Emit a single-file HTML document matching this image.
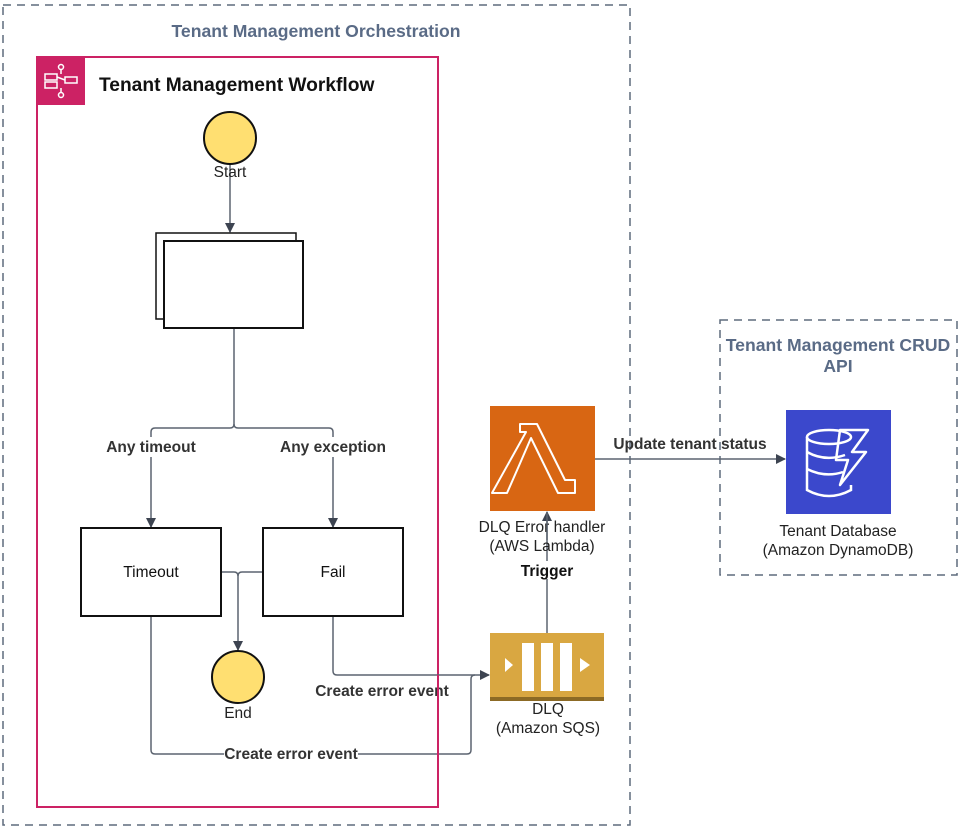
<!DOCTYPE html>
<html><head><meta charset="utf-8"><style>
body{margin:0;background:#fff;width:959px;height:833px;overflow:hidden}
svg text{font-family:"Liberation Sans",Arial,sans-serif}
</style></head><body>
<svg width="959" height="833" viewBox="0 0 959 833" xmlns="http://www.w3.org/2000/svg">
<defs>
<marker id="a" markerWidth="10" markerHeight="10" refX="9" refY="5" orient="auto" markerUnits="userSpaceOnUse"><path d="M0,0 L10,5 L0,10 z" fill="#3d4451"/></marker>
</defs>
<rect x="3" y="5" width="627" height="820" fill="none" stroke="#5f6b7d" stroke-width="1.5" stroke-dasharray="8,6"/>
<text x="316" y="37" text-anchor="middle" font-size="17.6" font-weight="bold" fill="#5a6b86">Tenant Management Orchestration</text>
<rect x="720" y="320" width="237" height="255" fill="none" stroke="#5f6b7d" stroke-width="1.5" stroke-dasharray="8,6"/>
<text x="838" y="351" text-anchor="middle" font-size="17.6" font-weight="bold" fill="#5a6b86">Tenant Management CRUD</text>
<text x="838" y="372" text-anchor="middle" font-size="17.6" font-weight="bold" fill="#5a6b86">API</text>

<rect x="37" y="57" width="401" height="750" fill="none" stroke="#cc2264" stroke-width="2"/>
<rect x="37" y="57" width="48" height="48" fill="#cc2264"/>
<g stroke="#fff" stroke-width="1.5" fill="none">
<circle cx="61" cy="67" r="2.5"/><circle cx="61" cy="95" r="2.5"/>
<line x1="61" y1="70" x2="61" y2="74"/><line x1="61" y1="88" x2="61" y2="92"/>
<rect x="45" y="74" width="12" height="6"/><rect x="65" y="77" width="12" height="6"/><rect x="45" y="82" width="12" height="6"/>
<line x1="57" y1="77" x2="65" y2="80"/>
</g>
<text x="99" y="91" font-size="19.2" font-weight="bold" fill="#111">Tenant Management Workflow</text>

<g stroke="#5c6470" stroke-width="1.5" fill="none">
<line x1="230" y1="164" x2="230" y2="232" marker-end="url(#a)"/>
<path d="M234,328 V424 Q234,428 230,428 H155 Q151,428 151,432 V527" marker-end="url(#a)"/>
<path d="M234,424 Q234,428 238,428 H329 Q333,428 333,432 V527" marker-end="url(#a)"/>
<path d="M221,572 H234 Q238,572 238,576 V650" marker-end="url(#a)"/>
<path d="M263,572 H242 Q238,572 238,576"/>
<path d="M333,616 V671 Q333,675 337,675 H489" marker-end="url(#a)"/>
<path d="M151,616 V750 Q151,754 155,754 H467 Q471,754 471,750 V679 Q471,675 475,675"/>
<line x1="547" y1="633" x2="547" y2="512" marker-end="url(#a)"/>
<line x1="595" y1="459" x2="785" y2="459" marker-end="url(#a)"/>
</g>
<circle cx="230" cy="138" r="26" fill="#ffdf71" stroke="#111" stroke-width="2"/>
<text x="230" y="177" text-anchor="middle" font-size="15.5" fill="#222">Start</text>
<rect x="156" y="233" width="140" height="86" fill="#fff" stroke="#111" stroke-width="1.5"/>
<rect x="164" y="241" width="139" height="87" fill="#fff" stroke="#111" stroke-width="2"/>

<rect x="100" y="437" width="104" height="20" fill="#fff"/>
<rect x="275" y="437" width="116" height="20" fill="#fff"/>
<text x="151" y="452" text-anchor="middle" font-size="15.5" font-weight="bold" fill="#333">Any timeout</text>
<text x="333" y="452" text-anchor="middle" font-size="15.5" font-weight="bold" fill="#333">Any exception</text>
<rect x="81" y="528" width="140" height="88" fill="#fff" stroke="#111" stroke-width="2"/>
<text x="151" y="577" text-anchor="middle" font-size="15.5" fill="#111">Timeout</text>
<rect x="263" y="528" width="140" height="88" fill="#fff" stroke="#111" stroke-width="2"/>
<text x="333" y="577" text-anchor="middle" font-size="15.5" fill="#111">Fail</text>
<circle cx="238" cy="677" r="26" fill="#ffdf71" stroke="#111" stroke-width="2"/>
<text x="238" y="718" text-anchor="middle" font-size="15.5" fill="#222">End</text>
<text x="382" y="696" text-anchor="middle" font-size="15.5" font-weight="bold" fill="#333">Create error event</text>
<rect x="224" y="744" width="134" height="18" fill="#fff"/>
<text x="291" y="759" text-anchor="middle" font-size="15.5" font-weight="bold" fill="#333">Create error event</text>
<line x1="438" y1="675" x2="438" y2="760" stroke="#cc2264" stroke-width="2"/>

<rect x="490" y="406" width="105" height="105" fill="#d86613"/>
<path d="M520,424 H537 L565,480 H575 V493 H558 L531,438 L518,468 L507,493 H492 L526,432 H520 Z" fill="none" stroke="#fff" stroke-width="2" stroke-linejoin="round"/>
<text x="542" y="532" text-anchor="middle" font-size="15.5" fill="#222">DLQ Error handler</text>
<text x="542" y="551" text-anchor="middle" font-size="15.5" fill="#222">(AWS Lambda)</text>
<line x1="547" y1="512" x2="547" y2="540" stroke="#5c6470" stroke-width="1.5"/>
<rect x="518" y="561" width="58" height="18" fill="#fff"/>
<text x="547" y="576" text-anchor="middle" font-size="15.5" font-weight="bold" fill="#111">Trigger</text>

<rect x="490" y="633" width="114" height="68" fill="#d9a741"/>
<rect x="490" y="697" width="114" height="4" fill="#8c6a25"/>
<path d="M505,658 L513,665 L505,672 Z" fill="#fff"/>
<rect x="522" y="643" width="12" height="48" fill="#fff"/><rect x="541" y="643" width="12" height="48" fill="#fff"/><rect x="560" y="643" width="12" height="48" fill="#fff"/>
<path d="M580,658 L590,665 L580,672 Z" fill="#fff"/>
<text x="548" y="714" text-anchor="middle" font-size="15.5" fill="#222">DLQ</text>
<text x="548" y="733" text-anchor="middle" font-size="15.5" fill="#222">(Amazon SQS)</text>

<rect x="786" y="410" width="105" height="104" fill="#3b48cc"/>
<g fill="none" stroke="#fff" stroke-width="2.5">
<ellipse cx="829" cy="437" rx="22" ry="7"/>
<path d="M807,437 V490 Q829,502 851,490 V485"/>
<path d="M807,452 Q825,462 845,455"/><path d="M807,469 Q825,478 843,472"/>
<path d="M840,430 L868,430 L852,452 L866,452 L840,485 L848,460 L836,460 Z" stroke-linejoin="round"/>
</g>
<text x="838" y="536" text-anchor="middle" font-size="15.5" fill="#222">Tenant Database</text>
<text x="838" y="555" text-anchor="middle" font-size="15.5" fill="#222">(Amazon DynamoDB)</text>
<text x="690" y="449" text-anchor="middle" font-size="15.5" font-weight="bold" fill="#333">Update tenant status</text>
</svg>
</body></html>
